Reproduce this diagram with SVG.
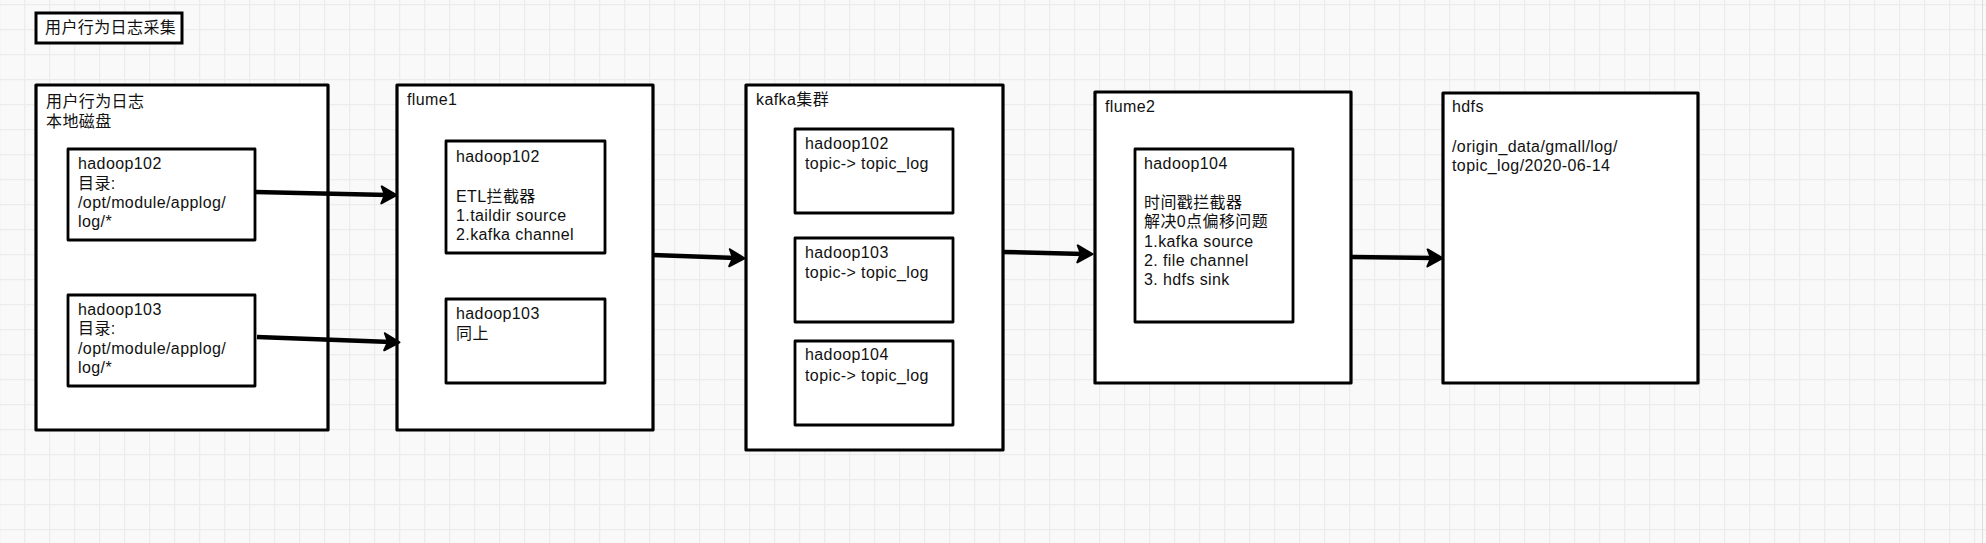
<svg xmlns="http://www.w3.org/2000/svg" width="1986" height="543" viewBox="0 0 1986 543">
<style>
.bg{fill:#f9f9f9}
.outer{fill:#ffffff;stroke:#000;stroke-width:3.2;stroke-linejoin:round}
.inner{fill:#ffffff;stroke:#000;stroke-width:2.8;stroke-linejoin:round}
.t{font-family:"Liberation Sans","Noto Sans CJK SC",sans-serif;font-size:16px;fill:#111;letter-spacing:0.4px}
.conn{stroke:#000;stroke-width:4.5;fill:none;stroke-linecap:butt}
</style>
<defs>
<pattern id="grid" patternUnits="userSpaceOnUse" width="25" height="25" x="24" y="4">
<path d="M0.5 0V25M0 0.5H25" stroke="#ececec" stroke-width="1.6" fill="none"/>
</pattern>
<marker id="arr" markerUnits="userSpaceOnUse" viewBox="0 0 18 20" refX="8" refY="10" markerWidth="18" markerHeight="20" orient="auto">
<path d="M1.5 1.5L16.5 10L1.5 18.5L5 10Z" fill="#000" stroke="#000" stroke-width="2" stroke-linejoin="round"/>
</marker>
</defs>
<rect class="bg" x="0" y="0" width="1986" height="543"/>
<rect x="0" y="0" width="1986" height="543" fill="url(#grid)"/>
<line x1="1982.5" y1="0" x2="1982.5" y2="543" stroke="#dddddd" stroke-width="1"/>

<g id="title">
<rect x="36" y="13" width="146" height="30" fill="#fff" stroke="#000" stroke-width="3"/>
<text class="t" x="45" y="33">用户行为日志采集</text>
</g>

<g id="disk">
<rect class="outer" x="36" y="85" width="292" height="345"/>
<text class="t" x="46" y="107">用户行为日志</text>
<text class="t" x="46" y="127">本地磁盘</text>
</g>
<g id="disk-h102">
<rect class="inner" x="68" y="149" width="187" height="91"/>
<text class="t" x="78" y="169">hadoop102</text>
<text class="t" x="78" y="189">目录:</text>
<text class="t" x="78" y="208">/opt/module/applog/</text>
<text class="t" x="78" y="227">log/*</text>
</g>
<g id="disk-h103">
<rect class="inner" x="68" y="295" width="187" height="91"/>
<text class="t" x="78" y="315">hadoop103</text>
<text class="t" x="78" y="334">目录:</text>
<text class="t" x="78" y="354">/opt/module/applog/</text>
<text class="t" x="78" y="373">log/*</text>
</g>

<g id="flume1">
<rect class="outer" x="397" y="85" width="256" height="345"/>
<text class="t" x="407" y="105">flume1</text>
</g>
<g id="flume1-h102">
<rect class="inner" x="446" y="141" width="159" height="112"/>
<text class="t" x="456" y="162">hadoop102</text>
<text class="t" x="456" y="202">ETL拦截器</text>
<text class="t" x="456" y="221">1.taildir source</text>
<text class="t" x="456" y="240">2.kafka channel</text>
</g>
<g id="flume1-h103">
<rect class="inner" x="446" y="299" width="159" height="84"/>
<text class="t" x="456" y="319">hadoop103</text>
<text class="t" x="456" y="339">同上</text>
</g>

<g id="kafka">
<rect class="outer" x="746" y="85" width="257" height="365"/>
<text class="t" x="756" y="105">kafka集群</text>
</g>
<g id="kafka-h102">
<rect class="inner" x="795" y="129" width="158" height="84"/>
<text class="t" x="805" y="149">hadoop102</text>
<text class="t" x="805" y="169">topic-&gt; topic_log</text>
</g>
<g id="kafka-h103">
<rect class="inner" x="795" y="238" width="158" height="84"/>
<text class="t" x="805" y="258">hadoop103</text>
<text class="t" x="805" y="278">topic-&gt; topic_log</text>
</g>
<g id="kafka-h104">
<rect class="inner" x="795" y="341" width="158" height="84"/>
<text class="t" x="805" y="360">hadoop104</text>
<text class="t" x="805" y="381">topic-&gt; topic_log</text>
</g>

<g id="flume2">
<rect class="outer" x="1095" y="92" width="256" height="291"/>
<text class="t" x="1105" y="112">flume2</text>
</g>
<g id="flume2-h104">
<rect class="inner" x="1135" y="149" width="158" height="173"/>
<text class="t" x="1144" y="169">hadoop104</text>
<text class="t" x="1144" y="208">时间戳拦截器</text>
<text class="t" x="1144" y="227">解决0点偏移问题</text>
<text class="t" x="1144" y="247">1.kafka source</text>
<text class="t" x="1144" y="266">2. file channel</text>
<text class="t" x="1144" y="285">3. hdfs sink</text>
</g>

<g id="hdfs">
<rect class="outer" x="1443" y="93" width="255" height="290"/>
<text class="t" x="1452" y="112">hdfs</text>
<text class="t" x="1452" y="152">/origin_data/gmall/log/</text>
<text class="t" x="1452" y="171">topic_log/2020-06-14</text>
</g>

<g id="connectors">
<line class="conn" x1="255" y1="192" x2="388" y2="195" marker-end="url(#arr)"/>
<line class="conn" x1="257" y1="337" x2="391" y2="342" marker-end="url(#arr)"/>
<line class="conn" x1="653" y1="255" x2="736" y2="258" marker-end="url(#arr)"/>
<line class="conn" x1="1003" y1="252" x2="1084" y2="254" marker-end="url(#arr)"/>
<line class="conn" x1="1351" y1="257" x2="1434" y2="258" marker-end="url(#arr)"/>
</g>
</svg>
